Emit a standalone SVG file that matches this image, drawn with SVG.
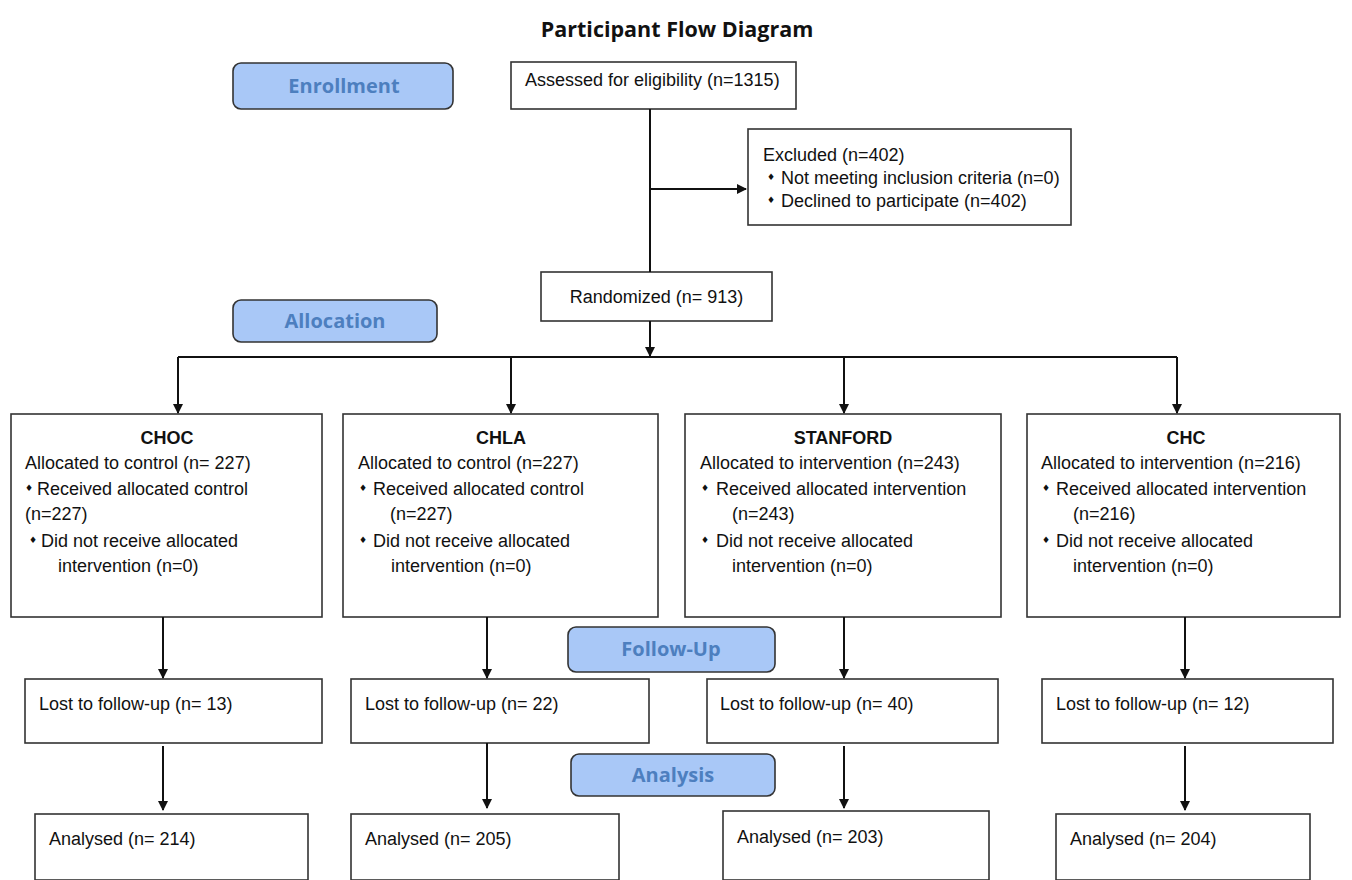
<svg xmlns="http://www.w3.org/2000/svg" width="1352" height="880" viewBox="0 0 1352 880">
<defs>
<marker id="ah" markerWidth="10" markerHeight="10" refX="9" refY="5" orient="auto" markerUnits="userSpaceOnUse">
<path d="M0,0 L10,5 L0,10 Z" fill="#111"/>
</marker>
<style>
.box{fill:#fff;stroke:#333;stroke-width:1.6}
.lab{fill:#a9c8f7;stroke:#333;stroke-width:1.6}
.lt{font-family:"Open Sans","DejaVu Sans",sans-serif;font-weight:bold;font-size:20px;fill:#4d7fbf;text-anchor:middle}
.t{font-family:"Liberation Sans",Arial,sans-serif;font-size:18px;fill:#111}
.b{font-family:"DejaVu Sans",sans-serif;font-size:9px;fill:#111}
.hd{font-family:"Liberation Sans",Arial,sans-serif;font-size:18px;font-weight:bold;fill:#111;text-anchor:middle}
.title{font-family:"Open Sans","DejaVu Sans",sans-serif;font-weight:bold;font-size:21.500px;fill:#111;text-anchor:middle}
.c{fill:none;stroke:#111;stroke-width:2}
</style>
</defs>
<rect width="1352" height="880" fill="#fff"/>
<text class="title" x="677" y="37">Participant Flow Diagram</text>

<g id="enrollment"><rect class="lab" x="233" y="63" width="220" height="46" rx="8"/><text class="lt" x="344" y="93">Enrollment</text></g>
<g id="allocation"><rect class="lab" x="233" y="300" width="204" height="42" rx="8"/><text class="lt" x="335" y="328">Allocation</text></g>
<g id="followup"><rect class="lab" x="568" y="627" width="207" height="45" rx="8"/><text class="lt" x="671" y="656">Follow-Up</text></g>
<g id="analysis"><rect class="lab" x="571" y="754" width="204" height="42" rx="8"/><text class="lt" x="673" y="782">Analysis</text></g>

<g id="assessed"><rect class="box" x="511" y="62" width="285" height="47"/><text class="t" x="525" y="86">Assessed for eligibility (n=1315)</text></g>
<g id="excluded"><rect class="box" x="748" y="129" width="323" height="96"/>
<text class="t" x="763" y="161">Excluded (n=402)</text>
<text class="b" x="767" y="180">♦</text><text class="t" x="781" y="184">Not meeting inclusion criteria (n=0)</text>
<text class="b" x="767" y="203">♦</text><text class="t" x="781" y="207">Declined to participate (n=402)</text>
</g>
<g id="randomized"><rect class="box" x="541" y="272" width="231" height="49"/><text class="t" x="656.500" y="303" text-anchor="middle">Randomized (n= 913)</text></g>

<g id="choc"><rect class="box" x="11" y="414" width="311" height="203"/>
<text class="hd" x="167" y="444">CHOC</text>
<text class="t" x="25" y="469">Allocated to control (n= 227)</text>
<text class="b" x="25" y="491">♦</text><text class="t" x="37" y="495">Received allocated control</text>
<text class="t" x="25" y="520">(n=227)</text>
<text class="b" x="29" y="543">♦</text><text class="t" x="41" y="547">Did not receive allocated</text>
<text class="t" x="58" y="572">intervention (n=0)</text>
</g>
<g id="chla"><rect class="box" x="343" y="414" width="315" height="203"/>
<text class="hd" x="501" y="444">CHLA</text>
<text class="t" x="358" y="469">Allocated to control (n=227)</text>
<text class="b" x="359" y="491">♦</text><text class="t" x="373" y="495">Received allocated control</text>
<text class="t" x="390" y="520">(n=227)</text>
<text class="b" x="359" y="543">♦</text><text class="t" x="373" y="547">Did not receive allocated</text>
<text class="t" x="391" y="572">intervention (n=0)</text>
</g>
<g id="stanford"><rect class="box" x="685" y="414" width="316" height="203"/>
<text class="hd" x="843" y="444">STANFORD</text>
<text class="t" x="700" y="469">Allocated to intervention (n=243)</text>
<text class="b" x="701" y="491">♦</text><text class="t" x="716" y="495">Received allocated intervention</text>
<text class="t" x="732" y="520">(n=243)</text>
<text class="b" x="701" y="543">♦</text><text class="t" x="716" y="547">Did not receive allocated</text>
<text class="t" x="732" y="572">intervention (n=0)</text>
</g>
<g id="chc"><rect class="box" x="1027" y="414" width="313" height="203"/>
<text class="hd" x="1186" y="444">CHC</text>
<text class="t" x="1041" y="469">Allocated to intervention (n=216)</text>
<text class="b" x="1042" y="491">♦</text><text class="t" x="1056" y="495">Received allocated intervention</text>
<text class="t" x="1073" y="520">(n=216)</text>
<text class="b" x="1042" y="543">♦</text><text class="t" x="1056" y="547">Did not receive allocated</text>
<text class="t" x="1073" y="572">intervention (n=0)</text>
</g>

<g id="lost_choc"><rect class="box" x="25" y="679" width="297" height="64"/><text class="t" x="39" y="710">Lost to follow-up (n= 13)</text></g>
<g id="lost_chla"><rect class="box" x="351" y="679" width="298" height="64"/><text class="t" x="365" y="710">Lost to follow-up (n= 22)</text></g>
<g id="lost_stanford"><rect class="box" x="707" y="679" width="291" height="64"/><text class="t" x="720" y="710">Lost to follow-up (n= 40)</text></g>
<g id="lost_chc"><rect class="box" x="1042" y="679" width="291" height="64"/><text class="t" x="1056" y="710">Lost to follow-up (n= 12)</text></g>

<g id="an_choc"><rect class="box" x="35" y="814" width="273" height="66"/><text class="t" x="49" y="845">Analysed (n= 214)</text></g>
<g id="an_chla"><rect class="box" x="351" y="814" width="268" height="66"/><text class="t" x="365" y="845">Analysed (n= 205)</text></g>
<g id="an_stanford"><rect class="box" x="723" y="811" width="266" height="69"/><text class="t" x="737" y="843">Analysed (n= 203)</text></g>
<g id="an_chc"><rect class="box" x="1056" y="814" width="254" height="66"/><text class="t" x="1070" y="845">Analysed (n= 204)</text></g>

<g id="connectors">
<path class="c" d="M650,109 V272"/>
<path class="c" d="M651,189 H746" marker-end="url(#ah)"/>
<path class="c" d="M650,321 V356" marker-end="url(#ah)"/>
<path class="c" d="M178,357 H1177"/>
<path class="c" d="M178,357 V413" marker-end="url(#ah)"/>
<path class="c" d="M511,357 V413" marker-end="url(#ah)"/>
<path class="c" d="M844,357 V413" marker-end="url(#ah)"/>
<path class="c" d="M1177,357 V413" marker-end="url(#ah)"/>
<path class="c" d="M163,617 V678" marker-end="url(#ah)"/>
<path class="c" d="M487,617 V678" marker-end="url(#ah)"/>
<path class="c" d="M844,617 V678" marker-end="url(#ah)"/>
<path class="c" d="M1185,617 V678" marker-end="url(#ah)"/>
<path class="c" d="M163,746 V810" marker-end="url(#ah)"/>
<path class="c" d="M487,743 V808" marker-end="url(#ah)"/>
<path class="c" d="M844,746 V808" marker-end="url(#ah)"/>
<path class="c" d="M1185,746 V810" marker-end="url(#ah)"/>
</g>
</svg>
